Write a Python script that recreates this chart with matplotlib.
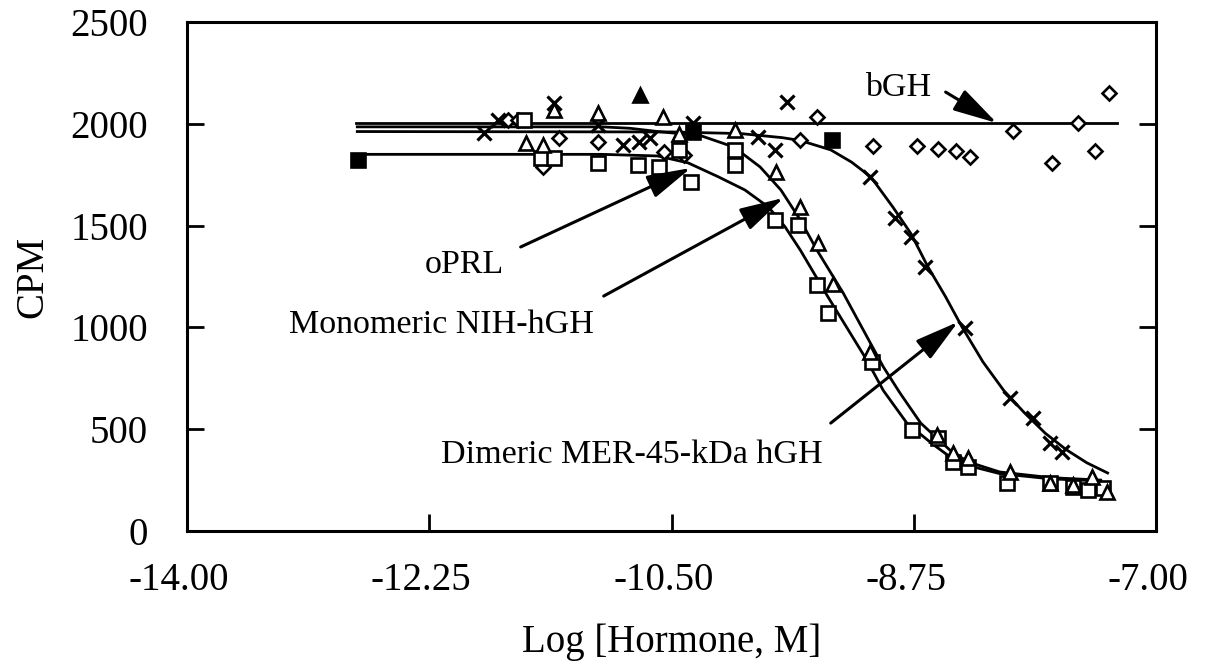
import numpy as np
import matplotlib
matplotlib.use("Agg")
import matplotlib.pyplot as plt
from matplotlib.transforms import ScaledTranslation

plt.rcParams['font.family'] = ['Liberation Serif', 'DejaVu Serif']

# measured points (log M, CPM)
dim_x = [-11.857, -11.756, -11.352, -11.034, -10.854, -10.738, -10.652, -10.348, -9.879, -9.749,
         -9.663, -9.064, -8.883, -8.768, -8.667, -8.378, -8.054, -7.888, -7.765, -7.678]
dim_y = [1955, 2019, 2102, 1995, 1896, 1911, 1930, 2004, 1935, 1871,
         2107, 1739, 1537, 1444, 1297, 997, 653, 555, 432, 388]

mono_x = [-11.554, -11.431, -11.352, -11.034, -10.565, -10.449, -10.038, -9.742, -9.569, -9.439,
          -9.331, -9.064, -8.58, -8.465, -8.357, -8.054, -7.765, -7.599, -7.462, -7.354]
mono_y = [1906, 1896, 2068, 2053, 2034, 1950, 1970, 1763, 1591, 1415,
          1213, 879, 472, 383, 359, 290, 236, 226, 265, 192]
mono_fill_x = [-10.731]
mono_fill_y = [2142]

prl_x = [-11.568, -11.445, -11.352, -11.034, -10.745, -10.594, -10.449, -10.356, -10.038, -10.038,
         -9.749, -9.583, -9.446, -9.367, -9.05, -8.761, -8.573, -8.465, -8.357, -8.075,
         -7.765, -7.599, -7.491, -7.383]
prl_y = [2019, 1832, 1832, 1808, 1798, 1788, 1871, 1714, 1871, 1798,
         1528, 1503, 1208, 1071, 830, 496, 457, 339, 314, 236,
         236, 216, 201, 211]
prl_fill_x = [-12.766, -10.348, -9.338]
prl_fill_y = [1822, 1960, 1920]

bgh_x = [-11.684, -11.611, -11.431, -11.315, -11.034, -10.558, -10.413, -9.446, -9.569, -9.042,
         -8.725, -8.573, -8.443, -8.342, -8.032, -7.75, -7.563, -7.44, -7.339]
bgh_y = [2019, 2019, 1788, 1930, 1911, 1862, 1847, 2034, 1920, 1891,
         1891, 1876, 1866, 1837, 1965, 1808, 2004, 1866, 2151]

# fitted curves
bgh_cx = [-12.78, -7.28]
bgh_cy = [2004, 2004]

dim_cx = [-12.77, -10.50, -10.00, -9.70, -9.57, -9.35, -9.20, -9.06, -8.90, -8.77,
          -8.65, -8.52, -8.40, -8.25, -8.10, -7.95, -7.80, -7.65, -7.50, -7.35]
dim_cy = [1962, 1960, 1952, 1932, 1918, 1872, 1812, 1739, 1590, 1460,
          1300, 1150, 1000, 830, 690, 580, 480, 400, 335, 285]

mono_cx = [-12.77, -11.00, -10.80, -10.60, -10.29, -10.05, -9.86, -9.71, -9.57, -9.45,
           -9.26, -8.97, -8.85, -8.70, -8.49, -8.36, -8.13, -7.76, -7.40]
mono_cy = [1985, 1985, 1978, 1962, 1942, 1886, 1788, 1675, 1528, 1380,
           1169, 806, 678, 530, 398, 340, 290, 262, 250]

prl_cx = [-12.73, -11.00, -10.60, -10.38, -10.16, -9.97, -9.80, -9.68, -9.57, -9.37,
          -9.09, -8.97, -8.80, -8.62, -8.49, -8.36, -8.13, -7.76, -7.40]
prl_cy = [1850, 1850, 1842, 1808, 1739, 1675, 1591, 1494, 1380, 1150,
          840, 690, 530, 430, 365, 322, 282, 256, 246]

xticks = [-14.00, -12.25, -10.50, -8.75, -7.00]
yticks = [0, 500, 1000, 1500, 2000, 2500]

fig = plt.figure(figsize=(12.16, 6.67), dpi=100)
ax = fig.add_axes([0.1538, 0.2039, 0.7969, 0.7631])

lw = 2.0
ax.plot(bgh_cx, bgh_cy, color='black', lw=lw)
ax.plot(dim_cx, dim_cy, color='black', lw=lw)
ax.plot(mono_cx, mono_cy, color='black', lw=lw)
ax.plot(prl_cx, prl_cy, color='black', lw=lw)

mk = dict(linestyle='none', color='black', mew=1.9)
ax.plot(bgh_x, bgh_y, marker='D', ms=7, mfc='white', **mk)
ax.plot(prl_x, prl_y, marker='s', ms=9.5, mfc='white', **mk)
ax.plot(prl_fill_x, prl_fill_y, marker='s', ms=9.5, mfc='black', **mk)
ax.plot(mono_x, mono_y, marker='^', ms=9.5, mfc='white', **mk)
ax.plot(mono_fill_x, mono_fill_y, marker='^', ms=9.5, mfc='black', **mk)
ax.plot(dim_x, dim_y, marker='x', ms=10, **dict(mk, mew=2.3))

arrow = dict(arrowstyle='-|>,head_length=1.5,head_width=0.4', color='black',
             lw=2.2, mutation_scale=18, shrinkA=0, shrinkB=0)
fs = 24.5
ax.text(-9.10, 2176, 'bGH', fontsize=fs, ha='left', va='center')
ax.annotate('', xy=(-8.15, 2004), xytext=(-8.52, 2156), arrowprops=arrow)
ax.text(-12.0, 1310, 'oPRL', fontsize=fs, ha='center', va='center')
ax.annotate('', xy=(-10.36, 1783), xytext=(-11.59, 1395), arrowprops=arrow)
ax.text(-12.16, 1012, 'Monomeric NIH-hGH', fontsize=fs, ha='center', va='center')
ax.annotate('', xy=(-9.69, 1636), xytext=(-10.99, 1154), arrowprops=arrow)
ax.text(-10.79, 373, 'Dimeric MER-45-kDa hGH', fontsize=fs, ha='center', va='center')
ax.annotate('', xy=(-8.43, 1027), xytext=(-9.35, 530), arrowprops=arrow)

ax.set_xlim(-14, -7)
ax.set_ylim(0, 2500)
ax.set_xticks(xticks)
ax.set_xticklabels(['%.2f' % t for t in xticks])
ax.set_yticks(yticks)
ax.tick_params(axis='both', direction='in', length=12, width=2, labelsize=28)
ax.tick_params(axis='x', pad=22)
ax.tick_params(axis='y', pad=28, right=True)
for s in ax.spines.values():
    s.set_linewidth(2.2)

shift = ScaledTranslation(-8 / 100, 0, fig.dpi_scale_trans)
for lab in ax.get_xticklabels():
    lab.set_transform(lab.get_transform() + shift)

ax.set_xlabel('Log [Hormone, M]', fontsize=28, labelpad=18)
ax.set_ylabel('CPM', fontsize=28, labelpad=14)

fig.savefig('out.png', dpi=100)
